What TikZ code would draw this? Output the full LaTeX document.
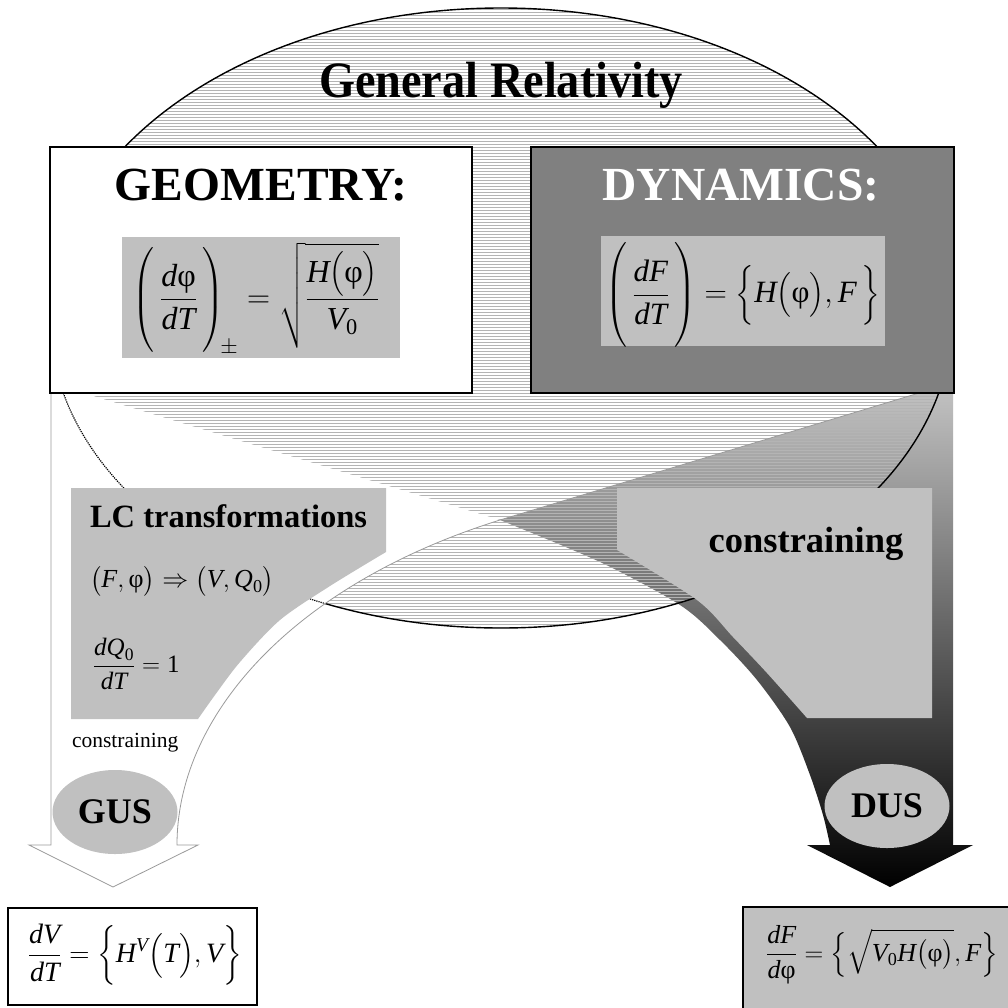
\RequirePackage{fix-cm}
\documentclass[tikz,border=0pt]{standalone}
\usepackage{amsmath}
\usepackage{fontspec}
\setmainfont{Liberation Serif}
\usetikzlibrary{shapes.geometric}
\definecolor{lg}{HTML}{C0C0C0}
\definecolor{dg}{HTML}{808080}
\definecolor{midg}{HTML}{888888}
\definecolor{hatchc}{HTML}{B4B4B4}
\definecolor{edgec}{HTML}{9A9A9A}
\newcommand{\vi}[1]{\textit{#1}}
\newcommand{\ph}{\textrm{φ}}
\newcommand{\zr}{\textrm{0}}
\tikzset{
  hatch/.style={hatchc, line width=1.1pt},
  boxline/.style={draw=black, line width=2pt},
  txt/.style={inner sep=0pt, outer sep=0pt},
  bigtitle/.style={txt, font=\bfseries\fontsize{46.3}{52}\selectfont},
  boxtitle/.style={txt, font=\bfseries\fontsize{47.5}{53}\selectfont},
  lblb/.style={txt, font=\bfseries\fontsize{36.5}{40}\selectfont},
  oval/.style={ellipse, fill=lg, inner sep=0pt, minimum width=125pt, minimum height=84pt, font=\bfseries\fontsize{36}{40}\selectfont},
}
\begin{document}
\begin{tikzpicture}[x=1pt,y=-1pt]
\useasboundingbox (0,0) rectangle (1008,1007);
\fill[white] (0,0) rectangle (1008,1007);

% right (gradient) arrow
\shade[top color=lg, middle color=midg, bottom color=black]
  (90,395) -- (85,393) -- (953,393) -- (953,845) -- (973,845) -- (890,887) -- (807,845) -- (830,845)
  -- plot[smooth,tension=0.5] coordinates {(830,845) (823,815) (810,775) (790,727) (757,680) (720,640) (680,605) (600,562) (500,520)} -- cycle;

% left (white) arrow body
\fill[white] (51,393) -- (919,393) -- (500,520) .. controls (295,584) and (177,714) .. (177,845)
  -- (198,845) -- (113,887) -- (29,845) -- (51,845) -- cycle;

% hatching of the ellipse
\begin{scope}
  \clip (501,318) ellipse [x radius=451pt, y radius=310pt];
  \foreach \yy in {9.5,12.5,...,627.5} \draw[hatch] (45,\yy) -- (957,\yy);
\end{scope}
\draw[line width=1.4pt] (501,318) ellipse [x radius=451pt, y radius=310pt];

% part of the left arrow over the hatching
\fill[white] (51,393) -- (90,393) -- (90,395) -- (500,520) .. controls (295,584) and (177,714) .. (177,845) -- (51,845) -- cycle;
\begin{scope}
  \clip (51,393) -- (90,393) -- (90,395) -- (500,520) .. controls (295,584) and (177,714) .. (177,845) -- (51,845) -- cycle;
  \draw[line width=1.2pt, densely dotted] (501,318) ellipse [x radius=451pt, y radius=310pt];
\end{scope}

% outline of the left arrow
\draw[edgec, line width=0.8pt] (51,393) -- (51,845) -- (29,845) -- (113,887) -- (198,845) -- (177,845)
  .. controls (177,714) and (295,584) .. (500,520) -- (919,393);

% grey label panels
\fill[lg] (71,488) -- (386,488) -- (386,552)
  -- plot[smooth,tension=0.5] coordinates {(386,552) (330,586) (280,620) (240,662) (215,695) (198,719)} -- (71,719) -- cycle;
\fill[lg] (617,488) -- (932,488) -- (932,718) -- (807,718)
  -- plot[smooth,tension=0.5] coordinates {(807,718) (767,673) (733,637) (697,600) (617,550)} -- cycle;

% top boxes
\draw[boxline, fill=white] (50,147) rectangle (472,393);
\draw[boxline, fill=dg] (531,147) rectangle (954,393);
\fill[lg] (122,237) rectangle (400,358);
\fill[lg] (601,236) rectangle (885,346);

% bottom boxes
\draw[boxline, fill=white] (8,908) rectangle (257,1005);
\draw[boxline, fill=lg] (743,907) rectangle (1020,1020);

% texts
\node[bigtitle, anchor=base] (gr) at (501,97) {\scalebox{1}[1.1]{General Relativity}};
\node[boxtitle, anchor=base] (geo) at (261,200) {GEOMETRY:};
\node[boxtitle, anchor=base, text=white] (dyn) at (741,200) {DYNAMICS:};

\node[txt, font=\fontsize{32}{38}\selectfont] (geof) at (256,299)
  {$\displaystyle \left(\rule[-40pt]{0pt}{92pt}\,\frac{\vi{d}\ph}{\vi{dT}}\,\right)_{\!\pm} = \sqrt{\frac{\vi{H}\bigl(\ph\bigr)}{\vi{V}_{\zr}}\rule[-38pt]{0pt}{90pt}}$};
\node[txt, font=\fontsize{31}{38}\selectfont] (dynf) at (743,295)
  {$\displaystyle \left(\rule[-42pt]{0pt}{98pt}\,\frac{\vi{dF}}{\vi{dT}}\,\right) = \Bigl\{\vi{H}\bigl(\ph\bigr), \vi{F}\,\Bigr\}$};

\node[txt, font=\bfseries\fontsize{32.5}{36}\selectfont, anchor=base west] (lc) at (90,527) {LC transformations};
\node[txt, font=\fontsize{26}{30}\selectfont, anchor=west] (lcf) at (90,581)
  {$\bigl(\vi{F}, \ph\bigr)\Rightarrow\bigl(\vi{V}, \vi{Q}_{\zr}\bigr)$};
\node[txt, font=\fontsize{25}{30}\selectfont, anchor=west] (dq) at (93,664)
  {$\displaystyle \frac{\vi{dQ}_{\zr}}{\vi{dT}} = \textrm{1}$};
\node[txt, font=\fontsize{21.5}{24}\selectfont, anchor=base west] (cs) at (72,747) {constraining};
\node[lblb, anchor=base] (cb) at (806,552) {constraining};

\node[oval] (gus) at (115,812) {GUS};
\node[oval] (dus) at (887,806) {DUS};

\node[txt, font=\fontsize{28}{32}\selectfont] (blf) at (135,955)
  {$\displaystyle \frac{\vi{dV}}{\vi{dT}} = \Bigl\{\vi{H}^{\vi{V}}\bigl(\vi{T}\bigr), \vi{V}\Bigr\}$};
\node[txt, font=\fontsize{26}{30}\selectfont] (brf) at (882,955)
  {$\displaystyle \frac{\vi{dF}}{\vi{d}\ph} = \Bigl\{\sqrt{\vi{V}_{\zr}\vi{H}\bigl(\ph\bigr)}, \vi{F}\Bigr\}$};
\end{tikzpicture}
\end{document}
